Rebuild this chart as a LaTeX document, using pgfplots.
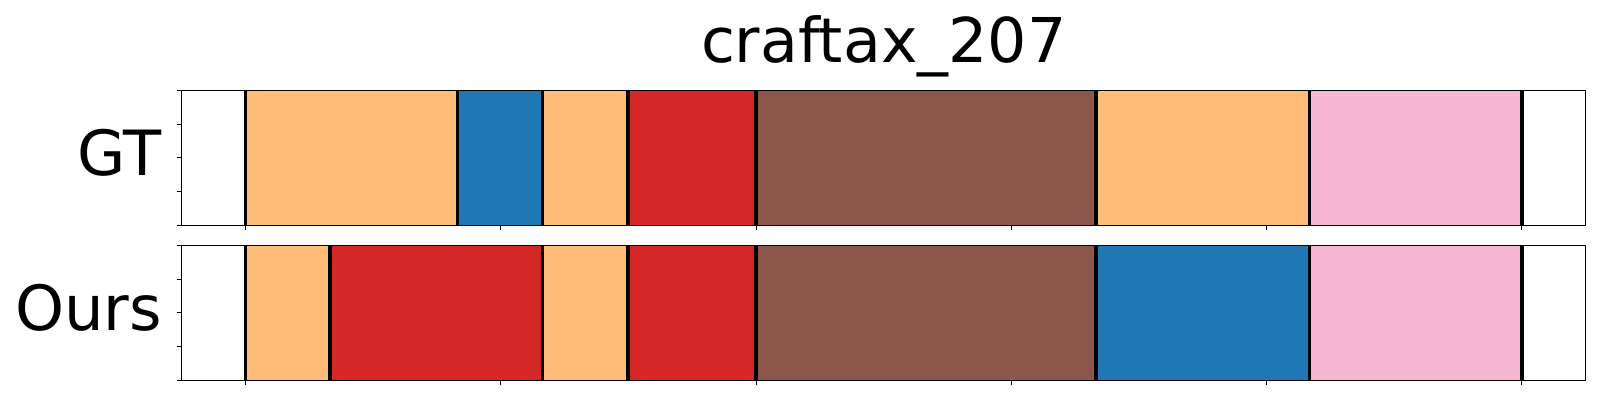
\documentclass[border=0pt]{standalone}
\usepackage{fontspec}
\setmainfont{DejaVu Sans}
\usepackage{pgfplots}
\pgfplotsset{compat=1.18}
\definecolor{tOrange}{HTML}{FFBB78}
\definecolor{tBlue}{HTML}{1F77B4}
\definecolor{tRed}{HTML}{D62728}
\definecolor{tBrown}{HTML}{8C564B}
\definecolor{tPink}{HTML}{F7B6D2}
\pgfplotsset{
  segax/.style={
    anchor=south west, scale only axis,
    width=701.95bp, height=67.5bp,
    xmin=-12.5, xmax=262.5, ymin=0, ymax=1,
    xtick={0,50,...,250}, xticklabels={},
    ytick={0,0.25,0.5,0.75,1}, yticklabels={},
    xtick pos=bottom, ytick pos=left,
    tick align=outside, major tick length=2.5bp,
    tick style={black, line width=0.5bp},
    axis line style={black, line width=0.55bp},
    axis on top,
    ylabel style={rotate=-90, at={(axis description cs:0,0.371)}, anchor=base east, inner sep=0pt, xshift=-9.7bp, font=\fontsize{31.3}{32}\selectfont},
  },
  seg/.style={fill=#1, draw=none, mark=none},
  bnd/.style={ycomb, black, line width=1.85bp, mark=none},
}
\begin{document}
\begin{tikzpicture}
\useasboundingbox (0,0) rectangle (800bp,200bp);
\begin{axis}[segax, at={(90.85bp,87.35bp)}, ylabel={GT},
  title={craftax\_207},
  title style={at={(axis description cs:0.5,1)}, anchor=base, inner sep=0pt, yshift=7.9bp, font=\fontsize{31.0}{32}\selectfont}]
\addplot[seg=tOrange] coordinates {(0,1)(41.5,1)} \closedcycle;
\addplot[seg=tBlue] coordinates {(41.5,1)(58.2,1)} \closedcycle;
\addplot[seg=tOrange] coordinates {(58.2,1)(74.9,1)} \closedcycle;
\addplot[seg=tRed] coordinates {(74.9,1)(100,1)} \closedcycle;
\addplot[seg=tBrown] coordinates {(100,1)(166.6,1)} \closedcycle;
\addplot[seg=tOrange] coordinates {(166.6,1)(208.4,1)} \closedcycle;
\addplot[seg=tPink] coordinates {(208.4,1)(250,1)} \closedcycle;
\addplot[bnd] coordinates {(0,1)(41.5,1)(58.2,1)(74.9,1)(100,1)(166.6,1)(208.4,1)(250,1)};
\end{axis}
\begin{axis}[segax, at={(90.85bp,9.85bp)}, ylabel={Ours}]
\addplot[seg=tOrange] coordinates {(0,1)(16.5,1)} \closedcycle;
\addplot[seg=tRed] coordinates {(16.5,1)(58.2,1)} \closedcycle;
\addplot[seg=tOrange] coordinates {(58.2,1)(74.9,1)} \closedcycle;
\addplot[seg=tRed] coordinates {(74.9,1)(100,1)} \closedcycle;
\addplot[seg=tBrown] coordinates {(100,1)(166.6,1)} \closedcycle;
\addplot[seg=tBlue] coordinates {(166.6,1)(208.4,1)} \closedcycle;
\addplot[seg=tPink] coordinates {(208.4,1)(250,1)} \closedcycle;
\addplot[bnd] coordinates {(0,1)(16.5,1)(58.2,1)(74.9,1)(100,1)(166.6,1)(208.4,1)(250,1)};
\end{axis}
\end{tikzpicture}
\end{document}
